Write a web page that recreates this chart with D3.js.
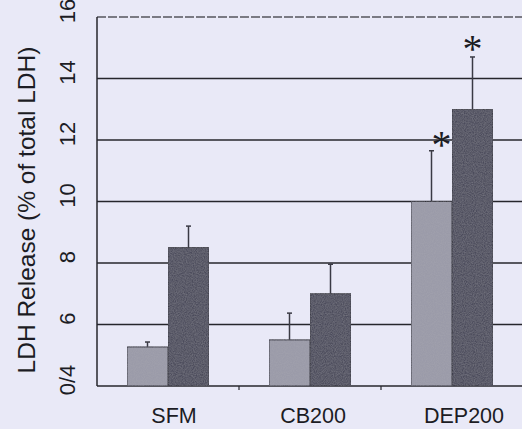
<!DOCTYPE html>
<html><head><meta charset="utf-8">
<script src="https://cdn.jsdelivr.net/npm/d3@7"></script>
<style>
html,body{margin:0;padding:0;background:#e9e9f7;}
svg{display:block;}
text{font-family:Arial,"Liberation Sans",sans-serif;fill:#1c1c24;}
</style></head><body>
<svg id="c" width="522" height="429"></svg>
<script>
const categories = ["SFM", "CB200", "DEP200"];
const seriesA = [5.27, 5.5, 10.0];     // light bars
const seriesB = [8.5, 7.0, 13.0];      // dark bars
const errA = [0.16, 0.87, 1.65];
const errB = [0.7, 0.96, 1.7];
const sigA = [false, false, true];
const sigB = [false, false, true];
const yTicks = [4, 6, 8, 10, 12, 14, 16];
const yTickLabels = ["0/4", "6", "8", "10", "12", "14", "16"];

const svg = d3.select("#c");
const W = 522, H = 429;
const m = {left: 97, top: 17, bottom: 386};

svg.append("rect").attr("width", W).attr("height", H).attr("fill", "#e9e9f7");

const defs = svg.append("defs");
const f = defs.append("filter").attr("id","noise").attr("x","0").attr("y","0").attr("width","1").attr("height","1");
f.append("feTurbulence").attr("type","fractalNoise").attr("baseFrequency","0.9").attr("numOctaves","2").attr("seed","3").attr("result","t");
f.append("feColorMatrix").attr("in","t").attr("type","matrix")
  .attr("values","0 0 0 0 0.45  0 0 0 0 0.45  0 0 0 0 0.5  0 0 0 0.35 -0.08").attr("result","n");
f.append("feComposite").attr("in","n").attr("in2","SourceGraphic").attr("operator","atop");

const x = d3.scaleBand().domain(categories).range([m.left, m.left + 3*142]).paddingInner(0).paddingOuter(0);
const inner = d3.scaleBand().domain(["A","B"]).range([-41, 41]);
const y = d3.scaleLinear().domain([4, 16]).range([m.bottom, m.top]);

// gridlines
svg.append("g").selectAll("line").data(yTicks).join("line")
  .attr("x1", m.left).attr("x2", W)
  .attr("y1", d => y(d)).attr("y2", d => y(d))
  .attr("stroke", d => d === 16 ? "#55555e" : "#26262c").attr("stroke-width", 1.5)
  .attr("stroke-dasharray", d => d === 16 ? "9,2" : null);

// y axis line
svg.append("line").attr("x1", m.left).attr("x2", m.left).attr("y1", y(16)).attr("y2", y(4))
  .attr("stroke", "#26262c").attr("stroke-width", 1.5);

// x category separators ticks
svg.append("g").selectAll("line").data(categories.slice(1)).join("line")
  .attr("x1", d => x(d)).attr("x2", d => x(d))
  .attr("y1", y(4)).attr("y2", y(4) + 4)
  .attr("stroke", "#26262c").attr("stroke-width", 1.2);

const data = categories.map((c, i) => [
  {c, k: "A", v: seriesA[i], e: errA[i], s: sigA[i]},
  {c, k: "B", v: seriesB[i], e: errB[i], s: sigB[i]}
]).flat();

const cx = d => x(d.c) + x.bandwidth()/2 + inner(d.k);
const bw = inner.bandwidth();

// error bars
const eb = svg.append("g");
eb.selectAll("line.v").data(data).join("line").attr("class","v")
  .attr("x1", d => cx(d) + bw/2).attr("x2", d => cx(d) + bw/2)
  .attr("y1", d => y(d.v)).attr("y2", d => y(d.v + d.e))
  .attr("stroke", "#3a3a44").attr("stroke-width", 1.5);
eb.selectAll("line.cap").data(data).join("line").attr("class","cap")
  .attr("x1", d => cx(d) + bw/2 - 2.5).attr("x2", d => cx(d) + bw/2 + 2.5)
  .attr("y1", d => y(d.v + d.e)).attr("y2", d => y(d.v + d.e))
  .attr("stroke", "#3a3a44").attr("stroke-width", 1.5);

// bars
svg.append("g").selectAll("rect").data(data).join("rect")
  .attr("x", d => cx(d)).attr("width", bw)
  .attr("y", d => y(d.v)).attr("height", d => y(4) - y(d.v))
  .attr("fill", d => d.k === "A" ? "#9a9aa8" : "#4c4c5c")
  .attr("stroke", "#2c2c36").attr("stroke-width", 1)
  .attr("filter", "url(#noise)");

// significance asterisks
svg.append("g").selectAll("text").data(data.filter(d => d.s)).join("text")
  .attr("x", d => cx(d) + bw/2 + (d.k === "A" ? 10 : 0))
  .attr("y", d => y(d.v + d.e) + (d.k === "A" ? 7 : 5))
  .attr("text-anchor", "middle")
  .style("font-family", "'Liberation Serif','Times New Roman',serif")
  .style("font-size", "40px")
  .text("*");

// y tick labels (rotated)
svg.append("g").selectAll("text").data(yTicks).join("text")
  .attr("transform", d => `translate(75,${y(d) - 6}) rotate(-90)`)
  .attr("text-anchor", "middle")
  .style("font-size", "22px")
  .text((d, i) => yTickLabels[i]);

// y axis title
svg.append("text")
  .attr("transform", `translate(35,210) rotate(-90)`)
  .attr("text-anchor", "middle")
  .style("font-size", "24.5px")
  .text("LDH Release (% of total LDH)");

// x labels
svg.append("g").selectAll("text").data(categories).join("text")
  .attr("x", (d, i) => x(d) + x.bandwidth()/2 + [6, 3, 12][i])
  .attr("y", 423)
  .attr("text-anchor", "middle")
  .style("font-size", "21.5px")
  .text(d => d);
</script>
</body></html>
